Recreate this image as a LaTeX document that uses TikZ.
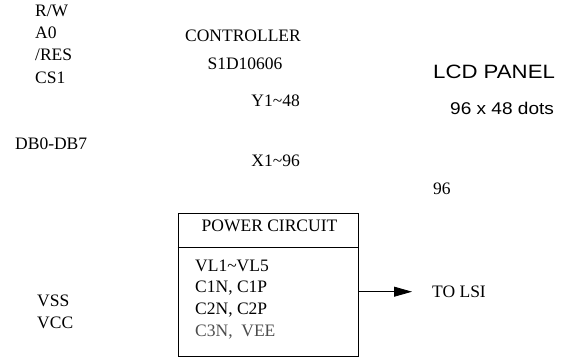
\documentclass[tikz,border=0pt]{standalone}
\usepackage{fontspec}
\usepackage{graphicx}
\setmainfont{Liberation Serif}
\newfontfamily\panelfont{Liberation Sans}
\usetikzlibrary{arrows.meta}

\begin{document}
\begin{tikzpicture}[
    x=1pt, y=-1pt,
    pin/.style={anchor=base west, inner sep=0pt, font=\fontsize{17.5}{20}\selectfont},
    pinc/.style={pin, anchor=base},
    pinr/.style={pin, anchor=base east},
    pnl/.style={anchor=base west, inner sep=0pt, font=\panelfont\fontsize{17}{20}\selectfont},
    blk/.style={draw, line width=0.8pt, inner sep=0pt},
    wire/.style={line width=0.8pt},
  ]
  \useasboundingbox (0,0) rectangle (568,358);

  % ================= MPU side signals
  \node[pin] (rw)  at (35,16.5) {R/W};
  \node[pin] (a0)  at (35,38.5) {A0};
  \node[pin] (res) at (35,61)   {/RES};
  \node[pin] (cs)  at (35,83.5) {CS1};
  \node[pin] (db)  at (15,150)  {DB0-DB7};
  \node[pin] (vss) at (37,306.5) {VSS};
  \node[pin] (vcc) at (37,328)   {VCC};

  % ================= controller
  \node[pinc] (ctl)  at (243,41.7) {CONTROLLER};
  \node[pinc] (chip) at (245,70)   {S1D10606};
  \node[pinr] (ycom) at (300,106.7) {Y1\textasciitilde 48};
  \node[pinr] (xseg) at (300,166.5) {X1\textasciitilde 96};

  % ================= LCD panel
  \node[pnl, font=\panelfont\fontsize{19.3}{22}\selectfont] (lcd) at (433,79) {\scalebox{1.15}[1]{LCD PANEL}};
  \node[pnl] (dots) at (450,115) {\scalebox{1.12}[1]{96 x 48 dots}};
  \node[pin] (n96)  at (433,195) {96};

  % ================= power circuit
  \node[blk, minimum width=180, minimum height=143.5] (pwr) at (268,284.8) {};
  \draw[wire] (pwr.west |- 0,247) -- (pwr.east |- 0,247);
  \node[pinc] (pwrtitle) at (269.5,231.5) {POWER CIRCUIT};
  \node[pin] (vl)  at (195,272) {VL1\textasciitilde VL5};
  \node[pin] (c1)  at (195,293) {C1N, C1P};
  \node[pin] (c2)  at (195,315) {C2N, C2P};
  \node[pin, text=black!70] (c3) at (195,337) {C3N,\ \ VEE};

  % output to the driver
  \coordinate (lsiend) at (412,291.7);
  \draw[wire, -{Triangle[length=18pt, width=10pt]}] (pwr.east |- lsiend) -- (lsiend);
  \node[pin] (lsi) at (432,298) {TO LSI};
\end{tikzpicture}
\end{document}
